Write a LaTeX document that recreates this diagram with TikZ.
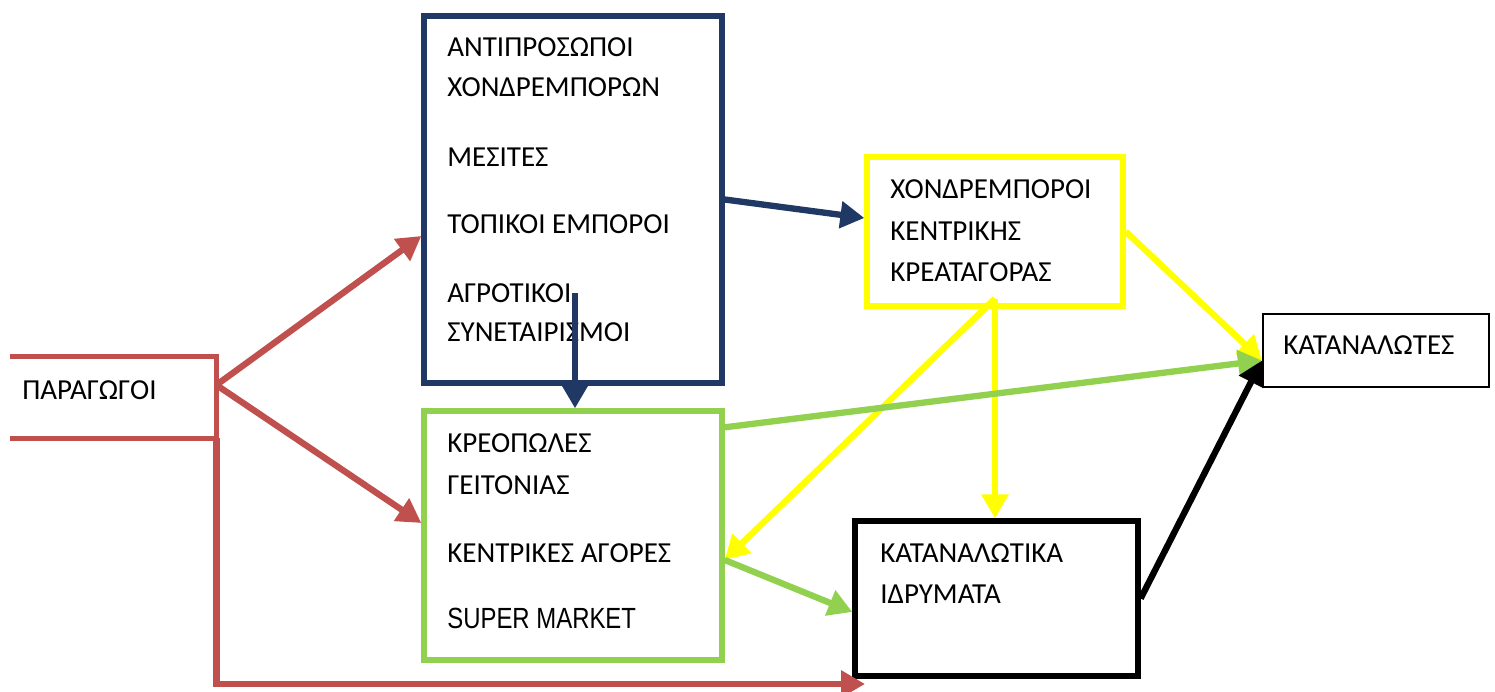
\documentclass[tikz,border=0pt]{standalone}
\usepackage{fontspec}
\setmainfont{Carlito}
\newfontfamily\narrowfont[FakeStretch=0.82]{Liberation Sans}
\usetikzlibrary{arrows.meta}
\definecolor{prodred}{HTML}{C0504D}
\definecolor{agentblue}{HTML}{1F3864}
\definecolor{retailgreen}{HTML}{92D050}
\definecolor{whyellow}{HTML}{FFFF00}
\tikzset{
  box/.style={draw, line width=3pt, inner sep=0pt},
  lbl/.style={anchor=west, inner sep=0pt, font=\fontsize{16.5}{19}\selectfont},
  arr/.style={line width=3.6pt, -{Triangle[length=0.48cm,width=0.52cm]}}
}
\begin{document}
\begin{tikzpicture}
  \useasboundingbox (0,0) rectangle (29.9,13.84);
  % boxes
  \node (prod) [minimum width=4.12cm, minimum height=1.62cm] at (2.26,5.89) {};
  \draw[prodred, line width=3pt] (prod.north west) -- (prod.north east) -- (prod.south east) -- (prod.south west);
  \node (agents) [box, agentblue, minimum width=5.96cm, minimum height=7.34cm] at (11.46,9.85) {};
  \node (retail) [box, retailgreen, minimum width=5.96cm, minimum height=4.98cm] at (11.46,3.13) {};
  \node (whole) [box, whyellow, minimum width=5.12cm, minimum height=2.98cm] at (19.9,9.21) {};
  \node (cons) [box, line width=1.2pt, minimum width=4.52cm, minimum height=1.46cm] at (27.52,6.83) {};
  \node (inst) [box, minimum width=5.66cm, minimum height=3.10cm] at (19.93,1.87) {};
  % texts
  \node[lbl] (prodtxt) at (0.44,6.04) {ΠΑΡΑΓΩΓΟΙ};
  \foreach \y/\txt [count=\i] in {12.90/ΑΝΤΙΠΡΟΣΩΠΟΙ, 12.10/ΧΟΝΔΡΕΜΠΟΡΩΝ, 10.70/ΜΕΣΙΤΕΣ,
      9.36/ΤΟΠΙΚΟΙ ΕΜΠΟΡΟΙ, 7.98/ΑΓΡΟΤΙΚΟΙ, 7.20/ΣΥΝΕΤΑΙΡΙΣΜΟΙ}
    \node[lbl] (ag\i) at (8.94,\y) {\txt};
  \foreach \y/\txt [count=\i] in {4.98/ΚΡΕΟΠΩΛΕΣ, 4.14/ΓΕΙΤΟΝΙΑΣ, 2.78/ΚΕΝΤΡΙΚΕΣ ΑΓΟΡΕΣ}
    \node[lbl] (re\i) at (8.94,\y) {\txt};
  \node[lbl, font=\narrowfont\fontsize{16.6}{19}\selectfont] (re4) at (8.94,1.48) {SUPER MARKET};
  \foreach \y/\txt [count=\i] in {10.06/ΧΟΝΔΡΕΜΠΟΡΟΙ, 9.22/ΚΕΝΤΡΙΚΗΣ, 8.40/ΚΡΕΑΤΑΓΟΡΑΣ}
    \node[lbl] (wh\i) at (17.80,\y) {\txt};
  \node[lbl] (constxt) at (25.66,6.94) {ΚΑΤΑΝΑΛΩΤΕΣ};
  \node[lbl] (in1) at (17.60,2.78) {ΚΑΤΑΝΑΛΩΤΙΚΑ};
  \node[lbl] (in2) at (17.60,1.96) {ΙΔΡΥΜΑΤΑ};
  % helper points
  \coordinate (fork) at ([yshift=0.25cm]prod.east);
  \coordinate (direct) at (17.3,0.16);
  \coordinate (agro) at (11.5,7.98);
  \coordinate (whout) at ([yshift=0.2cm]whole.south);
  \coordinate (reout) at ([yshift=-0.49cm]retail.east);
  \coordinate (cin) at ([yshift=-0.2cm]cons.west);
  % red
  \draw[arr, prodred] (fork) -- ([yshift=-0.73cm]agents.west);
  \draw[arr, prodred] (fork) -- ([yshift=0.25cm]retail.west);
  \draw[arr, prodred] (prod.south east) |- (direct);
  % blue
  \draw[arr, agentblue] (agents.east) -- ([yshift=0.27cm]whole.west);
  \draw[arr, agentblue] (agro) -- (agro |- retail.north);
  % yellow
  \draw[arr, whyellow] (whole.east) -- (cin);
  \draw[arr, whyellow] (whout) -- (reout);
  \draw[arr, whyellow] (whout) -- (whout |- inst.north);
  % green
  \draw[arr, retailgreen] ([yshift=-0.38cm]retail.north east) -- (cin);
  \draw[arr, retailgreen] (reout) -- ([yshift=-0.27cm]inst.west);
  % black
  \draw[arr, black] (inst.east) -- (cin);
\end{tikzpicture}
\end{document}
